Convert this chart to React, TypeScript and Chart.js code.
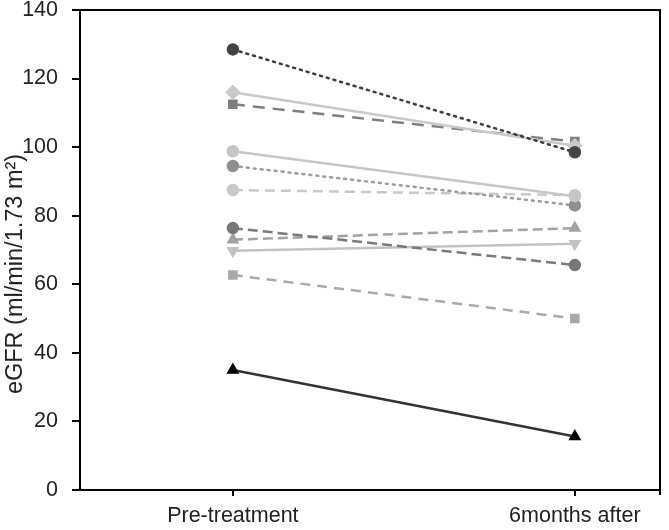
import React, { useEffect, useRef } from "react";
import { Chart, registerables } from "chart.js";

Chart.register(...registerables);

const categories = ["Pre-treatment", "6months after"];
const yTicks = [0, 20, 40, 60, 80, 100, 120, 140];
const yTitle = "eGFR (ml/min/1.73 m²)";

const preValues = [128.5, 116, 112.5, 98.8, 94.5, 87.5, 76.4, 73, 69.8, 62.7, 35];
const postValues = [98.5, 100.4, 101.6, 85.7, 83, 86, 65.6, 76.4, 71.8, 50, 15.6];

const lineColors = ["#3c3c3c", "#c9c9c9", "#7f7f7f", "#c6c6c6", "#9c9c9c", "#c9c9c9", "#7a7a7a", "#a2a2a2", "#c2c2c2", "#a9a9a9", "#333333"];
const markerColors = ["#444444", "#c9c9c9", "#7f7f7f", "#c6c6c6", "#8f8f8f", "#c9c9c9", "#777777", "#a2a2a2", "#c2c2c2", "#a9a9a9", "#000000"];
const pointStyles = ["circle", "rectRot", "rect", "circle", "circle", "circle", "circle", "triangle", "triangle", "rect", "triangle"];
const pointRotations = [0, 0, 0, 0, 0, 0, 0, 0, 180, 0, 0];
const dashes: number[][] = [[2, 5], [], [12, 8], [], [2, 5], [10, 6], [10, 5], [10, 5], [], [10, 7], []];

const framePlugin = {
  id: "frame",
  afterDatasetsDraw(chart: any) {
    const { ctx, chartArea } = chart;
    ctx.save();
    ctx.strokeStyle = "#000";
    ctx.lineWidth = 2;
    ctx.beginPath();
    ctx.moveTo(chartArea.left, chartArea.top);
    ctx.lineTo(chartArea.right, chartArea.top);
    ctx.lineTo(chartArea.right, chartArea.bottom + 5);
    ctx.stroke();
    // y-axis title, centred on the canvas height
    ctx.translate(16, chart.height / 2 + 9);
    ctx.rotate(-Math.PI / 2);
    ctx.fillStyle = "#222";
    ctx.font = "23.5px 'Liberation Sans'";
    ctx.textAlign = "center";
    ctx.textBaseline = "middle";
    ctx.fillText(yTitle, 0, 0);
    ctx.restore();
  },
};

export default function App() {
  const ref = useRef<HTMLCanvasElement | null>(null);
  useEffect(() => {
    document.body.style.margin = "0";
    if (!ref.current) return;
    const datasets = preValues.map((pre, i) => ({
      label: "S" + (i + 1),
      data: [
        { x: 0, y: pre },
        { x: 1, y: postValues[i] },
      ],
      borderColor: lineColors[i],
      backgroundColor: markerColors[i],
      pointBackgroundColor: markerColors[i],
      pointBorderColor: markerColors[i],
      pointStyle: pointStyles[i],
      rotation: pointRotations[i],
      pointRadius: pointStyles[i] === "rectRot" ? 6 : 5,
      borderWidth: 2.5,
      borderDash: dashes[i],
      borderCapStyle: dashes[i].length && dashes[i][0] <= 2 ? "round" : "butt",
      showLine: true,
      fill: false,
    }));
    const chart = new Chart(ref.current, {
      type: "scatter",
      data: { datasets: datasets as any },
      options: {
        animation: false,
        responsive: true,
        maintainAspectRatio: false,
        layout: { padding: { top: 10, right: 9, left: 0, bottom: 0 } },
        plugins: { legend: { display: false }, tooltip: { enabled: false } },
        scales: {
          x: {
            type: "linear",
            min: -0.447,
            max: 1.249,
            afterBuildTicks: (axis: any) => {
              axis.ticks = [{ value: 0 }, { value: 1 }];
            },
            afterFit: (axis: any) => {
              axis.height = 40;
              axis.paddingLeft = 0;
              axis.paddingRight = 0;
            },
            grid: { drawOnChartArea: false, drawTicks: true, tickLength: 6, color: "#000", lineWidth: 2 },
            border: { display: true, color: "#000", width: 2 },
            ticks: {
              color: "#222",
              font: { family: "Liberation Sans", size: 21.5 },
              padding: 7,
              callback: (v: any) => categories[Number(v)] ?? "",
            },
          },
          y: {
            min: 0,
            max: 140,
            afterBuildTicks: (axis: any) => {
              axis.ticks = yTicks.map((v) => ({ value: v }));
            },
            afterFit: (axis: any) => {
              axis.width = 80;
              axis.paddingTop = 0;
              axis.paddingBottom = 0;
            },
            grid: { drawOnChartArea: false, drawTicks: true, tickLength: 8, color: "#000", lineWidth: 2 },
            border: { display: true, color: "#000", width: 2 },
            ticks: {
              color: "#222",
              font: { family: "Liberation Sans", size: 21.5 },
              padding: 14,
            },
          },
        },
      },
      plugins: [framePlugin],
    });
    return () => chart.destroy();
  }, []);
  return (
    <div style={{ width: 669, height: 530, position: "relative" }}>
      <canvas ref={ref} />
    </div>
  );
}
